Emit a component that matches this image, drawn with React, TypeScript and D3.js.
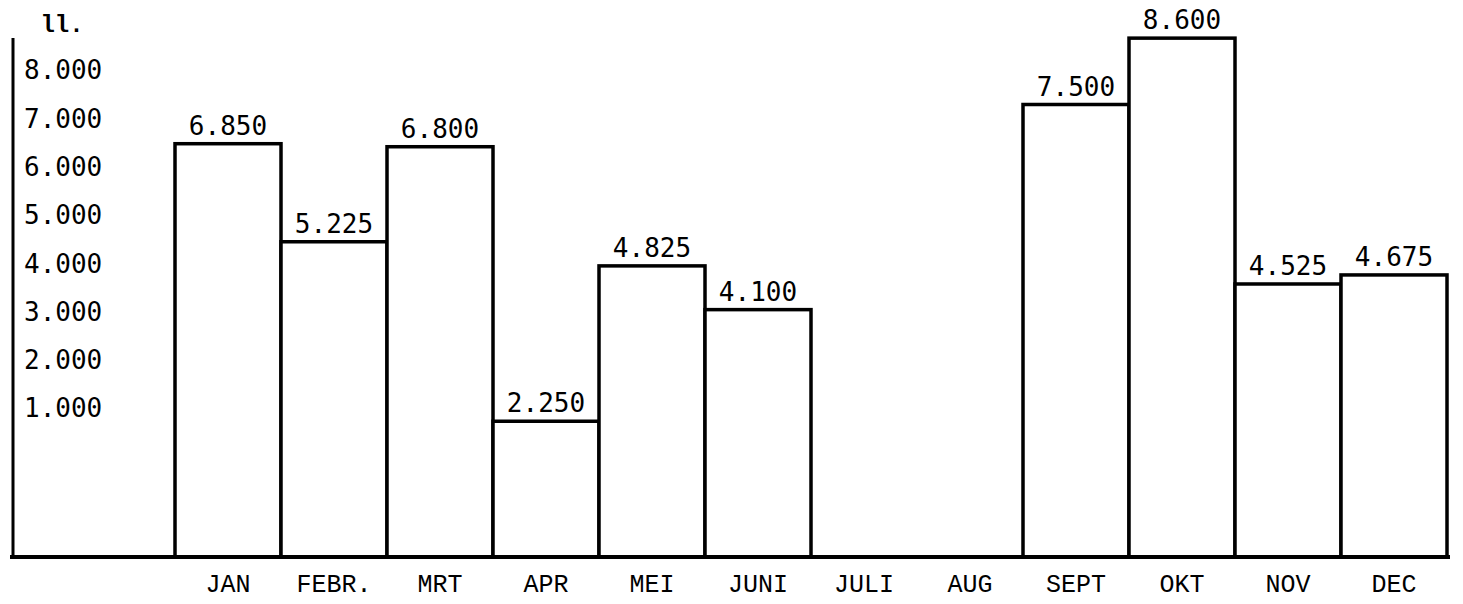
import React from "react";
import * as d3 from "d3";

// ---- data ----
const months = ["JAN", "FEBR.", "MRT", "APR", "MEI", "JUNI", "JULI", "AUG", "SEPT", "OKT", "NOV", "DEC"];
const liters: (number | null)[] = [6850, 5225, 6800, 2250, 4825, 4100, null, null, 7500, 8600, 4525, 4675];
const yTickValues = [8000, 7000, 6000, 5000, 4000, 3000, 2000, 1000];
const unitLabel = "ll.";

const W = 1463;
const H = 604;

const nl = d3.formatLocale({ decimal: ",", thousands: ".", grouping: [3], currency: ["", ""] });
const fmt = nl.format(",");

export default function App() {
  const baseY = 557;
  const x = d3.scaleBand<string>().domain(months).range([175, 1447]).paddingInner(0).paddingOuter(0);
  const y = d3.scaleLinear().domain([0, 9000]).range([baseY, 14]);
  // typed axis labels are spaced on their own, evenly between 1.000 and 8.000
  const yLab = d3.scaleLinear().domain([1000, 8000]).range([408, 70]);

  const numFont = "'DejaVu Sans Mono', monospace";
  const catFont = "'Liberation Mono', 'Courier New', monospace";

  return (
    <svg
      width={W}
      height={H}
      viewBox={`0 0 ${W} ${H}`}
      style={{ position: "absolute", left: 0, top: 0, background: "#fff" }}
    >
      <rect x={0} y={0} width={W} height={H} fill="#fff" />
      {/* unit label */}
      <text x={62} y={32} fontFamily={catFont} fontWeight="bold" fontSize={24} textAnchor="middle" fill="#000">
        {unitLabel}
      </text>
      {/* y axis line */}
      <line x1={13} x2={13} y1={38} y2={baseY + 2} stroke="#000" strokeWidth={3} />
      {/* y tick labels */}
      {yTickValues.map((v) => (
        <text
          key={v}
          x={24}
          y={yLab(v)}
          dy="0.36em"
          fontFamily={numFont}
          fontSize={26}
          fill="#000"
        >
          {fmt(v)}
        </text>
      ))}
      {/* bars */}
      {months.map((m, i) => {
        const v = liters[i];
        if (v == null) return null;
        const x0 = x(m)!;
        const bw = x.bandwidth();
        const yt = y(v);
        return (
          <rect
            key={m}
            x={x0}
            y={yt}
            width={bw}
            height={baseY - yt}
            fill="#fff"
            stroke="#000"
            strokeWidth={3.5}
          />
        );
      })}
      {/* value labels */}
      {months.map((m, i) => {
        const v = liters[i];
        if (v == null) return null;
        return (
          <text
            key={"l" + m}
            x={x(m)! + x.bandwidth() / 2}
            y={y(v) - 9}
            textAnchor="middle"
            fontFamily={numFont}
            fontSize={26}
            fill="#000"
          >
            {fmt(v)}
          </text>
        );
      })}
      {/* baseline */}
      <line x1={10} x2={1450} y1={baseY} y2={baseY} stroke="#000" strokeWidth={4} />
      {/* month labels */}
      {months.map((m) => (
        <text
          key={"m" + m}
          x={x(m)! + x.bandwidth() / 2}
          y={592}
          textAnchor="middle"
          fontFamily={catFont}
          fontSize={25}
          fill="#000"
        >
          {m}
        </text>
      ))}
    </svg>
  );
}
